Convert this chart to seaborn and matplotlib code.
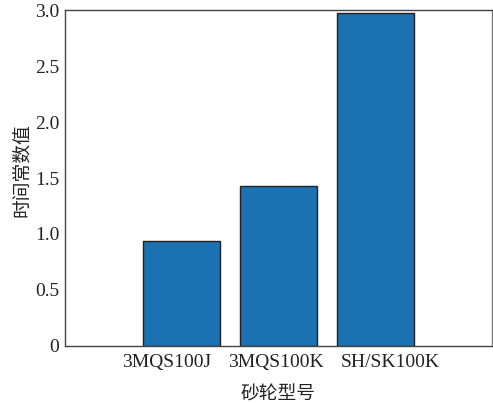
import matplotlib
matplotlib.use("Agg")
import matplotlib.pyplot as plt
import matplotlib.transforms as mtransforms
import seaborn as sns
import pandas as pd

# Grinding wheel types and their time-constant values
wheel_types = ["3MQS100J", "3MQS100K", "SH/SK100K"]
time_constants = [0.94, 1.43, 2.98]
y_ticks = [0, 0.5, 1.0, 1.5, 2.0, 2.5, 3.0]
y_tick_labels = ["0", "0.5", "1.0", "1.5", "2.0", "2.5", "3.0"]

sns.set_style("white")
plt.rcParams["font.family"] = ["Liberation Serif", "Noto Sans CJK SC"]

df = pd.DataFrame({"wheel": wheel_types, "tau": time_constants})

fig = plt.figure(figsize=(4.93, 4.03), dpi=100)
ax = fig.add_axes([0.1318, 0.1422, 0.8662, 0.8322])

sns.barplot(data=df, x="wheel", y="tau", color="#1b71b2", saturation=1,
            width=0.8, edgecolor="#222222", linewidth=1.0, ax=ax)

ax.set_xlim(-1.2, 3.2)
ax.set_ylim(0, 3.0)
ax.set_yticks(y_ticks)
ax.set_yticklabels(y_tick_labels)

ax.tick_params(axis="both", direction="in", length=3.5, width=0.8,
               labelsize=14, colors="#262626", labelcolor="#222222")
ax.tick_params(axis="x", pad=6)
ax.tick_params(axis="y", pad=4)

# spread the category labels a little wider than the bars
for lbl, dx in zip(ax.get_xticklabels(), [-15, -3, 15]):
    offset = mtransforms.ScaledTranslation(dx / 100, 0, fig.dpi_scale_trans)
    lbl.set_transform(lbl.get_transform() + offset)

for side, spine in ax.spines.items():
    spine.set_visible(True)
    spine.set_linewidth(1.0)
    spine.set_color("#444444")
ax.spines["right"].set_color("#777777")

ax.set_xlabel("砂轮型号", family=["Noto Sans CJK SC"], fontsize=13.5,
              labelpad=9, color="#222222")
ax.set_ylabel("时间常数值", family=["Noto Sans CJK SC"], fontsize=13.5,
              color="#222222")
ax.yaxis.set_label_coords(-0.077, 0.524)

fig.savefig("out.png", dpi=100)
